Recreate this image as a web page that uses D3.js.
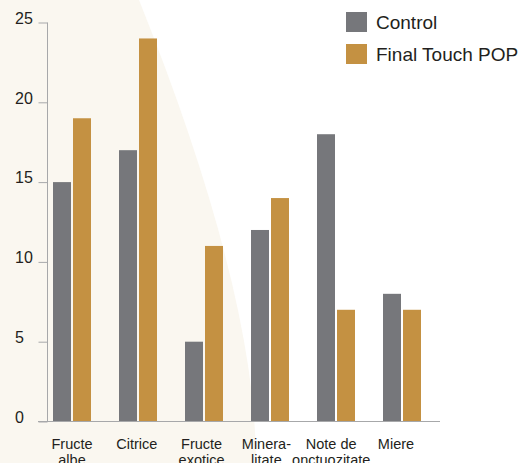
<!DOCTYPE html>
<html>
<head>
<meta charset="utf-8">
<script src="https://cdn.jsdelivr.net/npm/d3@7"></script>
<style>
  body { margin: 0; background: #fff; }
  svg { display: block; font-family: "Liberation Sans", Arial, sans-serif; }
</style>
</head>
<body>
<script>
var width = 531;
var height = 463;

// data
var categories = ['Fructe albe', 'Citrice', 'Fructe exotice', 'Mineralitate', 'Note de onctuozitate', 'Miere'];
var labelLines = [['Fructe', 'albe'], ['Citrice'], ['Fructe', 'exotice'], ['Minera-', 'litate'], ['Note de', 'onctuozitate'], ['Miere']];
var seriesNames = ['Control', 'Final Touch POP'];
var control = [15, 17, 5, 12, 18, 8];
var finalTouch = [19, 24, 11, 14, 7, 7];
var yTicks = [0, 5, 10, 15, 20, 25];
var colors = ['#76777b', '#c49142'];

var svg = d3.select('body').append('svg')
  .attr('width', width)
  .attr('height', height);

// beige backdrop with curved edge
svg.append('path')
  .attr('d', 'M0,0 H139 Q256,292 256,463 H0 Z')
  .attr('fill', '#faf7f0');

var x0 = d3.scaleBand()
  .domain(categories)
  .range([39, 435])
  .paddingInner(28 / 66)
  .paddingOuter(14 / 66);

var x1 = d3.scaleBand()
  .domain(seriesNames)
  .range([0, x0.bandwidth()])
  .paddingInner(0.1);

var y = d3.scaleLinear()
  .domain([0, 25])
  .range([421.5, 22.5]);

var labelX = d3.scalePoint()
  .domain(categories)
  .range([72, 396]);

// y axis
var yAxis = svg.append('g')
  .attr('transform', 'translate(47.5,0)')
  .call(d3.axisLeft(y).tickValues(yTicks).tickSize(9).tickPadding(0));

yAxis.select('.domain')
  .attr('stroke', '#a7a8aa')
  .attr('d', 'M0,' + y(25) + 'V' + y(0));
yAxis.selectAll('.tick line').attr('stroke', '#a7a8aa');
yAxis.selectAll('.tick text')
  .attr('x', 15 - 47.5)
  .attr('dy', '0.05em')
  .attr('text-anchor', 'start')
  .attr('font-size', 16)
  .attr('font-family', '"Liberation Sans", Arial, sans-serif')
  .attr('fill', '#231f20');

// bars
var data = categories.map(function(c, i) {
  return { cat: c, values: [control[i], finalTouch[i]] };
});

var groups = svg.selectAll('.group')
  .data(data)
  .enter().append('g')
  .attr('class', 'group')
  .attr('transform', function(d) { return 'translate(' + x0(d.cat) + ',0)'; });

groups.selectAll('rect')
  .data(function(d) { return d.values.map(function(v, i) { return { name: seriesNames[i], v: v, i: i }; }); })
  .enter().append('rect')
  .attr('x', function(d) { return x1(d.name); })
  .attr('y', function(d) { return y(d.v); })
  .attr('width', x1.bandwidth())
  .attr('height', function(d) { return y(0) - y(d.v); })
  .attr('fill', function(d) { return colors[d.i]; });

// baseline
svg.append('line')
  .attr('x1', 38).attr('x2', 440)
  .attr('y1', y(0)).attr('y2', y(0))
  .attr('stroke', '#a7a8aa')
  .attr('stroke-width', 1.2);

// category labels
var labels = svg.selectAll('.cat')
  .data(categories)
  .enter().append('text')
  .attr('class', 'cat')
  .attr('text-anchor', 'middle')
  .attr('font-size', 14.5)
  .attr('fill', '#231f20');

labels.each(function(d, i) {
  var t = d3.select(this);
  labelLines[i].forEach(function(line, j) {
    t.append('tspan')
      .attr('x', labelX(d))
      .attr('y', 449 + j * 16)
      .text(line);
  });
});

// legend
var legend = svg.selectAll('.legend')
  .data(seriesNames)
  .enter().append('g')
  .attr('class', 'legend')
  .attr('transform', function(d, i) { return 'translate(346,' + (12 + i * 32) + ')'; });

legend.append('rect')
  .attr('width', 21)
  .attr('height', 20)
  .attr('fill', function(d, i) { return colors[i]; });

legend.append('text')
  .attr('x', 30)
  .attr('y', 16.5)
  .attr('font-size', 19)
  .attr('fill', '#231f20')
  .text(function(d) { return d; });
</script>
</body>
</html>
